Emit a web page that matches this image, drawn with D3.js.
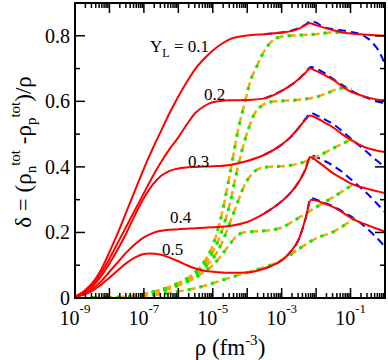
<!DOCTYPE html>
<html>
<head>
<meta charset="utf-8">
<script src="https://cdn.jsdelivr.net/npm/d3@7"></script>
<style>
body{margin:0;background:#fff}
svg{display:block}
text{font-family:"Liberation Serif","Times New Roman",serif;fill:#000}
</style>
</head>
<body>
<svg id="chart" width="388" height="360"></svg>
<script>
// curves: [log10(rho), delta]
var yl = ["0.1","0.2","0.3","0.4","0.5"];

var red01 = [[-9,0.004],[-8.75,0.02],[-8.5,0.045],[-8.25,0.085],[-8,0.14],[-7.75,0.2],[-7.5,0.265],[-7.25,0.33],[-7,0.395],[-6.75,0.455],[-6.5,0.51],[-6.25,0.565],[-6,0.615],[-5.75,0.66],[-5.5,0.70],[-5.25,0.73],[-5,0.755],[-4.75,0.775],[-4.5,0.79],[-4.25,0.797],[-4,0.801],[-3.5,0.805],[-3,0.81],[-2.7,0.815],[-2.5,0.822],[-2.35,0.83],[-2.18,0.838],[-2,0.832],[-1.75,0.824],[-1.5,0.817],[-1.25,0.811],[-1,0.807],[-0.5,0.803],[0,0.80]];
var red02 = [[-9,0.004],[-8.75,0.018],[-8.5,0.04],[-8.25,0.075],[-8,0.12],[-7.75,0.17],[-7.5,0.22],[-7.25,0.27],[-7,0.32],[-6.75,0.37],[-6.5,0.415],[-6.25,0.455],[-6,0.49],[-5.75,0.53],[-5.5,0.565],[-5.25,0.585],[-5,0.597],[-4.5,0.603],[-4,0.604],[-3.5,0.609],[-3.25,0.618],[-3,0.632],[-2.75,0.648],[-2.5,0.668],[-2.3,0.688],[-2.18,0.70],[-2,0.693],[-1.75,0.68],[-1.5,0.665],[-1.25,0.646],[-1,0.63],[-0.75,0.62],[-0.5,0.612],[-0.25,0.606],[0,0.603]];
var red03 = [[-9,0.004],[-8.75,0.015],[-8.5,0.035],[-8.25,0.065],[-8,0.105],[-7.75,0.15],[-7.5,0.2],[-7.25,0.255],[-7,0.305],[-6.75,0.345],[-6.5,0.373],[-6.25,0.388],[-6,0.395],[-5.5,0.40],[-5,0.402],[-4.5,0.406],[-4,0.418],[-3.5,0.437],[-3,0.468],[-2.75,0.49],[-2.5,0.52],[-2.3,0.545],[-2.18,0.557],[-2,0.55],[-1.75,0.535],[-1.5,0.52],[-1.25,0.50],[-1,0.483],[-0.75,0.468],[-0.5,0.457],[-0.25,0.45],[0,0.445]];
var red04 = [[-9,0.004],[-8.75,0.012],[-8.5,0.028],[-8.25,0.05],[-8,0.08],[-7.75,0.11],[-7.5,0.14],[-7.25,0.165],[-7,0.185],[-6.75,0.198],[-6.5,0.205],[-6,0.21],[-5.5,0.213],[-5,0.216],[-4.5,0.22],[-4,0.232],[-3.5,0.258],[-3,0.295],[-2.75,0.32],[-2.5,0.355],[-2.3,0.395],[-2.18,0.43],[-2,0.42],[-1.75,0.40],[-1.5,0.38],[-1.25,0.365],[-1,0.35],[-0.5,0.333],[0,0.32]];
var red05 = [[-9,0.004],[-8.75,0.01],[-8.5,0.022],[-8.25,0.04],[-8,0.062],[-7.75,0.085],[-7.5,0.107],[-7.25,0.124],[-7,0.134],[-6.85,0.136],[-6.5,0.132],[-6.25,0.123],[-6,0.112],[-5.75,0.10],[-5.5,0.09],[-5.25,0.083],[-5,0.08],[-4.5,0.077],[-4,0.078],[-3.5,0.09],[-3,0.115],[-2.75,0.14],[-2.5,0.18],[-2.3,0.245],[-2.15,0.30],[-2,0.297],[-1.75,0.288],[-1.5,0.277],[-1.25,0.262],[-1,0.245],[-0.75,0.232],[-0.5,0.222],[-0.25,0.212],[0,0.203]];

var blue01 = [[-3.5,0.805],[-3,0.81],[-2.7,0.816],[-2.45,0.826],[-2.3,0.835],[-2.15,0.845],[-2,0.84],[-1.8,0.827],[-1.5,0.82],[-1.3,0.817],[-1,0.812],[-0.72,0.805],[-0.5,0.792],[-0.35,0.777],[-0.2,0.757],[-0.09,0.735],[0,0.712]];
var blue02 = [[-3.5,0.609],[-3,0.632],[-2.75,0.648],[-2.5,0.668],[-2.3,0.69],[-2.15,0.705],[-2,0.70],[-1.75,0.686],[-1.5,0.668],[-1.25,0.65],[-1,0.634],[-0.75,0.62],[-0.5,0.61],[-0.25,0.60],[0,0.594]];
var blue03 = [[-3.5,0.437],[-3,0.468],[-2.75,0.49],[-2.5,0.52],[-2.3,0.548],[-2.15,0.565],[-2,0.558],[-1.75,0.545],[-1.5,0.53],[-1.25,0.51],[-1,0.487],[-0.75,0.465],[-0.5,0.443],[-0.25,0.42],[0,0.40]];
var blue04 = [[-3.5,0.258],[-3,0.295],[-2.75,0.32],[-2.5,0.355],[-2.3,0.395],[-2.15,0.435],[-2,0.43],[-1.75,0.418],[-1.5,0.403],[-1.25,0.385],[-1,0.363],[-0.75,0.34],[-0.5,0.317],[-0.25,0.29],[0,0.262]];
var blue05 = [[-3.5,0.09],[-3,0.115],[-2.75,0.14],[-2.5,0.18],[-2.3,0.245],[-2.15,0.305],[-2,0.30],[-1.75,0.29],[-1.5,0.28],[-1.25,0.265],[-1,0.25],[-0.75,0.232],[-0.5,0.21],[-0.25,0.185],[0,0.156]];

var orange01 = [[-8.5,0],[-8,0.001],[-7.5,0.004],[-7,0.012],[-6.5,0.025],[-6,0.045],[-5.5,0.08],[-5.25,0.11],[-5,0.16],[-4.75,0.25],[-4.5,0.38],[-4.25,0.52],[-4.06,0.60],[-3.9,0.665],[-3.75,0.70],[-3.6,0.735],[-3.4,0.77],[-3.2,0.79],[-3,0.798],[-2.5,0.802],[-2,0.805],[-1.5,0.81],[-1.1,0.81]];
var orange02 = [[-8.5,0],[-8,0.001],[-7.5,0.004],[-7,0.012],[-6.5,0.025],[-6,0.045],[-5.5,0.075],[-5.25,0.10],[-5,0.14],[-4.75,0.20],[-4.5,0.29],[-4.27,0.40],[-4.1,0.47],[-3.95,0.52],[-3.8,0.56],[-3.6,0.585],[-3.4,0.597],[-3,0.601],[-2.5,0.605],[-2,0.613],[-1.65,0.626],[-1.3,0.64],[-0.96,0.637]];
var orange03 = [[-8.5,0],[-8,0.001],[-7.5,0.004],[-7,0.011],[-6.5,0.023],[-6,0.042],[-5.5,0.07],[-5.25,0.092],[-5,0.12],[-4.75,0.165],[-4.5,0.23],[-4.25,0.30],[-4.05,0.35],[-3.85,0.38],[-3.65,0.395],[-3.4,0.40],[-3,0.402],[-2.5,0.41],[-2,0.43],[-1.5,0.457],[-1.1,0.478],[-0.96,0.485]];
var orange04 = [[-8.5,0],[-8,0.001],[-7.5,0.004],[-7,0.01],[-6.5,0.02],[-6,0.038],[-5.5,0.062],[-5.25,0.08],[-5,0.10],[-4.75,0.13],[-4.5,0.165],[-4.3,0.19],[-4.1,0.20],[-3.8,0.203],[-3.4,0.206],[-3,0.215],[-2.5,0.245],[-2,0.277],[-1.5,0.308],[-0.96,0.344]];
var orange05 = [[-8.5,0],[-8,0.001],[-7.5,0.003],[-7,0.007],[-6.5,0.012],[-6,0.02],[-5.5,0.03],[-5,0.045],[-4.5,0.062],[-4,0.078],[-3.5,0.094],[-3,0.115],[-2.5,0.15],[-2,0.182],[-1.5,0.202],[-1.1,0.228],[-0.87,0.244]];

var xMajor = [-9,-8,-7,-6,-5,-4,-3,-2,-1,0];
var xLabels = [-9,-7,-5,-3,-1];
var yMajor = [0,0.2,0.4,0.6,0.8];
var yMinor = [0.1,0.3,0.5,0.7];

var svg = d3.select("#chart");
var L = 75, R = 385, T = 3, B = 298;

var x = d3.scaleLog().domain([1e-9,1]).range([L,R]);
var y = d3.scaleLinear().domain([0,0.9]).range([B,T]);

svg.append("defs").append("clipPath").attr("id","clip")
  .append("rect").attr("x",L).attr("y",T).attr("width",R-L).attr("height",B-T);

var line = d3.line()
  .x(d => x(Math.pow(10,d[0])))
  .y(d => y(d[1]))
  .curve(d3.curveMonotoneX);

var plot = svg.append("g").attr("clip-path","url(#clip)");

function draw(list, color, width, dash){
  list.forEach(function(c){
    plot.append("path").attr("d",line(c))
      .attr("fill","none").attr("stroke",color)
      .attr("stroke-width",width)
      .attr("stroke-dasharray",dash);
  });
}

var oranges = [orange01,orange02,orange03,orange04,orange05];
draw([blue01,blue02,blue03,blue04,blue05],"#0000ff",2,"8,5");
draw(oranges,"#ffa500",2.5,"8,4");
draw(oranges,"#00ee00",3,"3,9");
draw([red01,red02,red03,red04,red05],"#ff0000",2,null);

// minor x ticks
var xMinor = [];
xMajor.slice(0,-1).forEach(function(e){
  for (var k=2;k<10;k++) xMinor.push(k*Math.pow(10,e));
});
var xMaj = xMajor.map(e => Math.pow(10,e));

var ax = svg.append("g");
function ticks(vals, len, side){
  vals.forEach(function(v){
    if (side=="b") ax.append("line").attr("x1",x(v)).attr("x2",x(v)).attr("y1",B).attr("y2",B-len);
    if (side=="t") ax.append("line").attr("x1",x(v)).attr("x2",x(v)).attr("y1",T).attr("y2",T+len);
    if (side=="l") ax.append("line").attr("y1",y(v)).attr("y2",y(v)).attr("x1",L).attr("x2",L+len);
    if (side=="r") ax.append("line").attr("y1",y(v)).attr("y2",y(v)).attr("x1",R).attr("x2",R-len);
  });
}
ticks(xMaj,10,"b"); ticks(xMinor,5,"b");
ticks(xMaj,10,"t"); ticks(xMinor,5,"t");
ticks(yMajor,10,"l"); ticks(yMinor,5,"l");
ticks(yMajor,10,"r"); ticks(yMinor,5,"r");
ax.selectAll("line").attr("stroke","#000").attr("stroke-width",1.5);

svg.append("rect").attr("x",L).attr("y",T).attr("width",R-L).attr("height",B-T)
  .attr("fill","none").attr("stroke","#000").attr("stroke-width",2);

// tick labels
yMajor.forEach(function(v){
  svg.append("text").attr("x",70).attr("y",y(v)).attr("dy","0.35em")
    .attr("text-anchor","end").style("font-size","20px").text(v==0?"0":v.toFixed(1));
});
xLabels.forEach(function(e){
  var t = svg.append("text").attr("x",x(Math.pow(10,e))).attr("y",325)
    .attr("text-anchor","middle").style("font-size","20px");
  t.append("tspan").text("10");
  t.append("tspan").attr("dy",-12).style("font-size","13px").text(e);
});

// axis titles
var xt = svg.append("text").attr("x",230).attr("y",355).attr("text-anchor","middle").style("font-size","23px");
xt.append("tspan").text("\u03c1 (fm");
xt.append("tspan").attr("dy",-10).style("font-size","15px").text("-3");
xt.append("tspan").attr("dy",10).text(")");

var yt = svg.append("text").attr("transform","translate(31,152) rotate(-90)")
  .attr("text-anchor","middle").style("font-size","23px");
yt.append("tspan").text("\u03b4 = (\u03c1");
yt.append("tspan").attr("dy",5).style("font-size","15px").text("n");
yt.append("tspan").attr("dy",-16).style("font-size","15px").text("tot");
yt.append("tspan").attr("dy",11).text(" -\u03c1");
yt.append("tspan").attr("dy",5).style("font-size","15px").text("p");
yt.append("tspan").attr("dy",-16).style("font-size","15px").text("tot");
yt.append("tspan").attr("dy",11).text(")/\u03c1");

// curve labels
var lab = [[150,52],[204,100],[188,167],[170,223],[162,255]];
yl.forEach(function(s,i){
  var t = svg.append("text").attr("x",lab[i][0]).attr("y",lab[i][1]).style("font-size","17px");
  if (i==0){
    t.append("tspan").text("Y");
    t.append("tspan").attr("dy",5).style("font-size","12px").text("L");
    t.append("tspan").attr("dy",-5).text(" = " + s);
  } else {
    t.text(s);
  }
});
</script>
</body>
</html>
